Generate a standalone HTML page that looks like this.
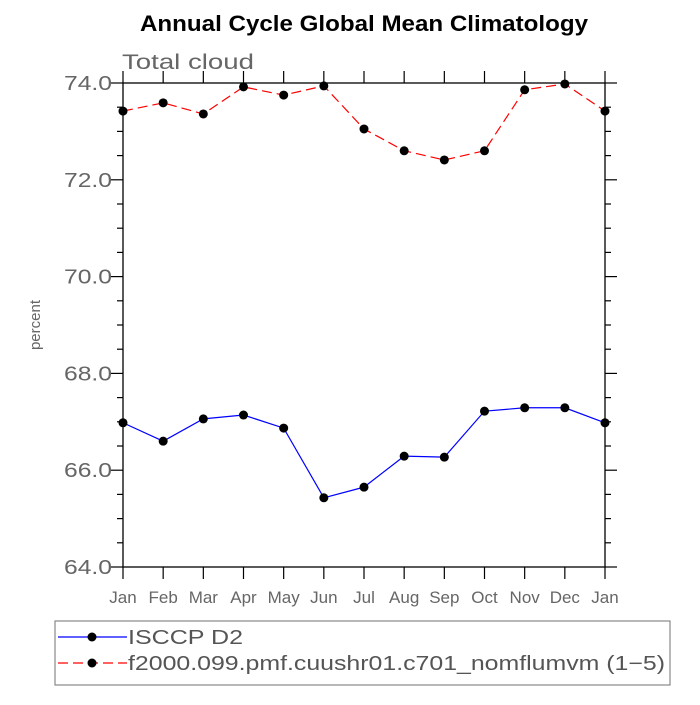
<!DOCTYPE html>
<html><head><meta charset="utf-8"><style>
body{margin:0;background:#fff}
svg text{font-family:"Liberation Sans",sans-serif}
</style></head><body>
<svg id="c" width="700" height="700" xmlns="http://www.w3.org/2000/svg">
<text x="140" y="31" textLength="448" lengthAdjust="spacingAndGlyphs" font-size="22" font-weight="bold" fill="#000">Annual Cycle Global Mean Climatology</text>
<text x="122" y="69" textLength="132" lengthAdjust="spacingAndGlyphs" font-size="21" fill="#666">Total cloud</text>
<text x="40" y="325" font-size="15" fill="#666" transform="rotate(-90 40 325)" text-anchor="middle">percent</text>
<g id="axes"></g>
<g id="series"></g>
<rect x="55" y="621" width="615" height="64" fill="none" stroke="#888" stroke-width="1.2"/>
<line x1="58" y1="637" x2="127" y2="637" stroke="#0000ff" stroke-width="1.2"/>
<circle cx="92" cy="637" r="4.5" fill="#000"/>
<text x="128" y="644" textLength="115" lengthAdjust="spacingAndGlyphs" font-size="20" fill="#555">ISCCP D2</text>
<line x1="58" y1="663" x2="127" y2="663" stroke="#ff0000" stroke-width="1.2" stroke-dasharray="10,5"/>
<circle cx="92" cy="663" r="4.5" fill="#000"/>
<text x="128" y="670" textLength="537" lengthAdjust="spacingAndGlyphs" font-size="20" fill="#555">f2000.099.pmf.cuushr01.c701_nomflumvm (1−5)</text>
</svg>
<script>
const months=["Jan","Feb","Mar","Apr","May","Jun","Jul","Aug","Sep","Oct","Nov","Dec","Jan"];
const isccp=[66.98,66.60,67.06,67.14,66.87,65.43,65.65,66.29,66.27,67.22,67.29,67.29,66.98];
const model=[73.42,73.59,73.36,73.92,73.75,73.94,73.05,72.60,72.41,72.60,73.86,73.98,73.42];
const yTicks=["64.0","66.0","68.0","70.0","72.0","74.0"];
const NS="http://www.w3.org/2000/svg";
const X0=123,X1=605,Y0=567,Y1=83,ymin=64,ymax=74;
const xs=i=>X0+(X1-X0)*i/(months.length-1);
const ys=v=>Y0-(v-ymin)/(ymax-ymin)*(Y0-Y1);
function mk(t,a,p){const e=document.createElementNS(NS,t);for(const k in a)e.setAttribute(k,a[k]);p.appendChild(e);return e;}
const ax=document.getElementById('axes');
const fr=mk('rect',{x:X0,y:Y1,width:X1-X0,height:Y0-Y1,fill:'none',stroke:'#000','stroke-width':1.3},ax);


for(let v=ymin;v<=ymax+1e-9;v+=0.5){
 const y=ys(v),maj=Math.abs(v/2-Math.round(v/2))<1e-9,L=maj?12:6;
 const l1=mk('line',{x1:X0-L,y1:y,x2:X0,y2:y,stroke:'#000','stroke-width':1.2},ax);
 
 
 const l2=mk('line',{x1:X1,y1:y,x2:X1+L,y2:y,stroke:'#000','stroke-width':1.2},ax);
 
 
}
yTicks.forEach(t=>{
 const tx=mk('text',{x:112,y:ys(parseFloat(t))+7,'text-anchor':'end','font-size':20,fill:'#666',textLength:48,lengthAdjust:'spacingAndGlyphs'},ax);tx.textContent=t;
 
 
});
months.forEach((m,i)=>{
 const x=xs(i);
 const a=mk('line',{x1:x,y1:Y0,x2:x,y2:Y0+12,stroke:'#000','stroke-width':1.2},ax);
 
 
 const b=mk('line',{x1:x,y1:Y1-12,x2:x,y2:Y1,stroke:'#000','stroke-width':1.2},ax);
 
 
 const tx=mk('text',{x:x,y:Y0+36,'text-anchor':'middle','font-size':17,fill:'#666'},ax);tx.textContent=m;
 
 
});
const sg=document.getElementById('series');
function series(vals,color,dash,name){
 const p=mk('polyline',{points:vals.map((v,i)=>xs(i)+','+ys(v)).join(' '),fill:'none',stroke:color,'stroke-width':1.2,'stroke-dasharray':dash},sg);
 
 
 vals.forEach((v,i)=>{
  const c=mk('circle',{cx:xs(i),cy:ys(v),r:4.5,fill:'#000'},sg);
  
  
 });
}
series(isccp,'#0000ff','none','isccp');
series(model,'#ff0000','10,5','model');
</script>
</body></html>
